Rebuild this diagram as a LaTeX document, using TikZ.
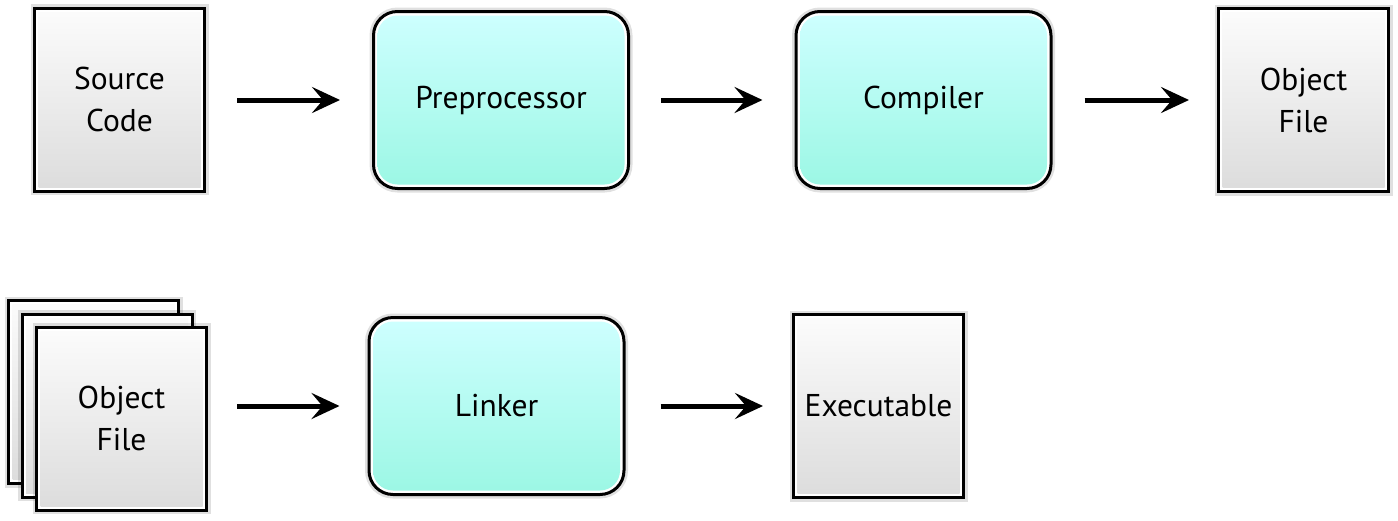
\documentclass[tikz,border=0pt]{standalone}
\usepackage{fontspec}
\setmainfont{PT Sans}
\usetikzlibrary{arrows.meta}
\definecolor{gtop}{RGB}{252,252,252}
\definecolor{gbot}{RGB}{220,220,220}
\definecolor{ctop}{RGB}{206,255,255}
\definecolor{cbot}{RGB}{155,247,228}
\tikzset{
  halo/.style={preaction={draw=black, draw opacity=0.12, line width=8pt}},
  filebox/.style={draw=black, line width=3pt, fill=white, halo, inner sep=0pt,
    minimum width=170pt, minimum height=183pt, align=center,
    font=\fontsize{31.5}{42}\selectfont,
    path picture={\shade[top color=gtop, bottom color=gbot]
      ([xshift=4pt,yshift=-4pt]path picture bounding box.north west) rectangle
      ([xshift=-4pt,yshift=4pt]path picture bounding box.south east);}},
  procbox/.style={draw=black, line width=3pt, fill=white, halo, inner sep=0pt,
    rounded corners=24pt,
    minimum width=255pt, minimum height=177pt, align=center,
    font=\fontsize{31.5}{42}\selectfont,
    path picture={\shade[top color=ctop, bottom color=cbot, rounded corners=20pt]
      ([xshift=4pt,yshift=-4pt]path picture bounding box.north west) rectangle
      ([xshift=-4pt,yshift=4pt]path picture bounding box.south east);}},
  flow/.style={draw=black, line width=5pt,
    -{Stealth[length=28pt, width=26pt, inset=11pt]}}
}
\begin{document}
\begin{tikzpicture}[x=1pt, y=-1pt]
\useasboundingbox (0,0) rectangle (1398,520);
% top row
\node[filebox] (src) at (119.5,99.5) {Source\\Code};
\node[procbox] (pre) at (501,100) {Preprocessor};
\node[procbox] (cmp) at (923.5,100) {Compiler};
\node[filebox] (obj) at (1303.5,100) {Object\\File};
% bottom row
\node[filebox] (objC) at (93.5,392) {};
\node[filebox] (objB) at (107,405.5) {};
\node[filebox] (objA) at (121.5,418.5) {Object\\File};
\node[procbox] (lnk) at (496.5,406) {Linker};
\node[filebox] (exe) at (878.5,406) {Executable};
% connectors
\draw[flow, shorten <=31pt, shorten >=32pt] (src.east |- pre.west) -- (pre.west);
\draw[flow, shorten <=31pt, shorten >=32pt] (pre.east) -- (cmp.west);
\draw[flow, shorten <=32pt, shorten >=28pt] (cmp.east) -- (obj.west |- cmp.east);
\draw[flow, shorten <=29pt, shorten >=28pt] (objA.east |- lnk.west) -- (lnk.west);
\draw[flow, shorten <=35pt, shorten >=29pt] (lnk.east) -- (exe.west);
\end{tikzpicture}
\end{document}
